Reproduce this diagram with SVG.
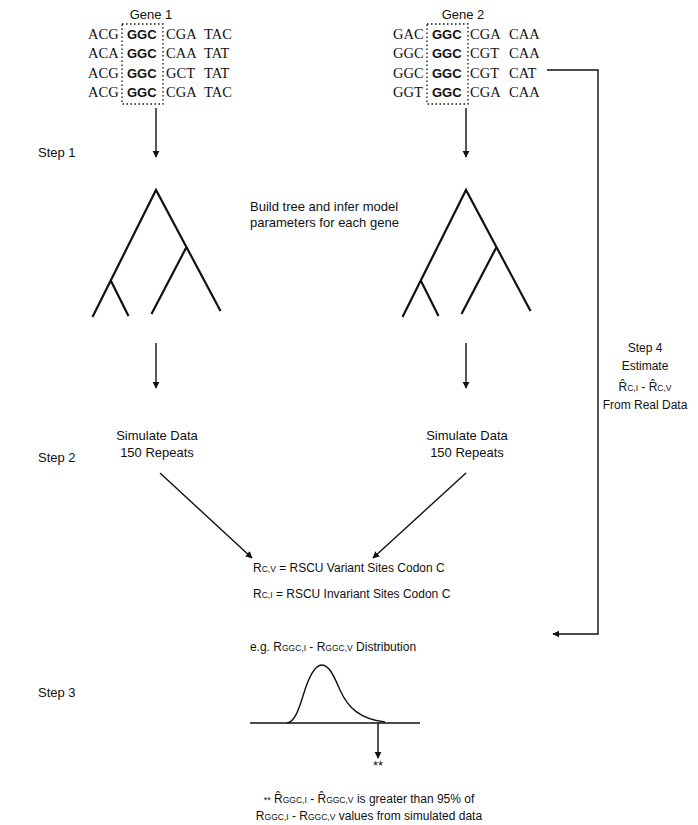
<svg xmlns="http://www.w3.org/2000/svg" width="698" height="825" viewBox="0 0 698 825">
  <style>
    .sans { font-family: "Liberation Sans", Arial, sans-serif; font-size: 13px; fill: #111; }
    .small { font-size: 12px; }
    .seq { font-family: "Liberation Serif", "Times New Roman", serif; font-size: 14.5px; fill: #111; }
    .bold { font-family: "Liberation Sans", Arial, sans-serif; font-size: 13px; font-weight: bold; fill: #111; }
    .sub { font-size: 8.5px; }
    .mid { text-anchor: middle; }
    .line { stroke: #111; stroke-width: 1.4; fill: none; }
    .tree { stroke: #111; stroke-width: 2.2; fill: none; stroke-linecap: square; }
    .dots { stroke: #111; stroke-width: 1.3; stroke-dasharray: 1.5 2.5; fill: none; }
  </style>
  <defs>
    <marker id="head" viewBox="0 0 10 10" refX="9" refY="5" markerWidth="7" markerHeight="9" markerUnits="userSpaceOnUse" orient="auto">
      <path d="M0,0 L10,5 L0,10 Z" fill="#111"/>
    </marker>
  </defs>
  <rect width="698" height="825" fill="#fff"/>

  <!-- Gene 1 alignment -->
  <g id="gene1">
    <text class="sans mid" x="151" y="19">Gene 1</text>
    <g class="seq">
      <text x="88" y="39">ACG</text><text x="166" y="39">CGA</text><text x="204" y="39">TAC</text>
      <text x="88" y="58">ACA</text><text x="166" y="58">CAA</text><text x="204" y="58">TAT</text>
      <text x="88" y="78">ACG</text><text x="166" y="78">GCT</text><text x="204" y="78">TAT</text>
      <text x="88" y="97">ACG</text><text x="166" y="97">CGA</text><text x="204" y="97">TAC</text>
    </g>
    <g class="bold">
      <text x="127" y="39">GGC</text>
      <text x="127" y="58">GGC</text>
      <text x="127" y="78">GGC</text>
      <text x="127" y="97">GGC</text>
    </g>
    <rect class="dots" x="122" y="24" width="41" height="80"/>
  </g>

  <!-- Gene 2 alignment -->
  <g id="gene2">
    <text class="sans mid" x="463" y="19">Gene 2</text>
    <g class="seq">
      <text x="393" y="39">GAC</text><text x="470" y="39">CGA</text><text x="509" y="39">CAA</text>
      <text x="393" y="58">GGC</text><text x="470" y="58">CGT</text><text x="509" y="58">CAA</text>
      <text x="393" y="78">GGC</text><text x="470" y="78">CGT</text><text x="509" y="78">CAT</text>
      <text x="393" y="97">GGT</text><text x="470" y="97">CGA</text><text x="509" y="97">CAA</text>
    </g>
    <g class="bold">
      <text x="432" y="39">GGC</text>
      <text x="432" y="58">GGC</text>
      <text x="432" y="78">GGC</text>
      <text x="432" y="97">GGC</text>
    </g>
    <rect class="dots" x="427" y="24" width="41" height="80"/>
  </g>

  <!-- Step labels -->
  <g id="step1"><text class="sans" x="38" y="157">Step 1</text></g>
  <g id="step2"><text class="sans" x="38" y="462">Step 2</text></g>
  <g id="step3"><text class="sans" x="38" y="697">Step 3</text></g>

  <!-- Trees -->
  <g id="tree1">
    <path class="tree" d="M93,316 L156,190 L220,310 M111,281 L128,315 M186,248 L152,313"/>
  </g>
  <g id="tree2">
    <path class="tree" d="M403,316 L466,190 L530,310 M421,281 L438,315 M496,248 L462,313"/>
  </g>

  <g id="build">
    <text class="sans" x="250" y="211">Build tree and infer model</text>
    <text class="sans" x="250" y="227">parameters for each gene</text>
  </g>

  <!-- Simulations -->
  <g id="sim1">
    <text class="sans mid" x="157" y="440">Simulate Data</text>
    <text class="sans mid" x="157" y="457">150 Repeats</text>
  </g>
  <g id="sim2">
    <text class="sans mid" x="467" y="440">Simulate Data</text>
    <text class="sans mid" x="467" y="457">150 Repeats</text>
  </g>

  <!-- Definitions -->
  <g id="defs-text">
    <text class="sans small" x="253" y="572">R<tspan class="sub">C,V</tspan> = RSCU Variant Sites Codon C</text>
    <text class="sans small" x="253" y="598">R<tspan class="sub">C,I</tspan> = RSCU Invariant Sites Codon C</text>
  </g>

  <!-- Distribution -->
  <g id="distribution">
    <text class="sans small mid" x="333" y="651">e.g. R<tspan class="sub">GGC,I</tspan> - R<tspan class="sub">GGC,V</tspan> Distribution</text>
    <line class="line" x1="250" y1="723" x2="420" y2="723"/>
    <path class="line" stroke-width="1.8" d="M287,723 C297,722 301,700 307,684 C312,671 317,665 322,665 C329,665 334,676 340,690 C348,708 360,719 385,722"/>
    <text class="sans mid" x="378" y="770" font-size="10">**</text>
  </g>

  <!-- Step 4 -->
  <g id="step4">
    <text class="sans small mid" x="645" y="352">Step 4</text>
    <text class="sans small mid" x="645" y="370">Estimate</text>
    <text class="sans small mid" x="645" y="391">R&#770;<tspan class="sub">C,I</tspan> - R&#770;<tspan class="sub">C,V</tspan></text>
    <text class="sans small mid" x="645" y="409">From Real Data</text>
  </g>

  <!-- Footnote -->
  <g id="note">
    <text class="sans small mid" x="369" y="803"><tspan font-size="9">**</tspan> R&#770;<tspan class="sub">GGC,I</tspan> - R&#770;<tspan class="sub">GGC,V</tspan> is greater than 95% of</text>
    <text class="sans small mid" x="369" y="820">R<tspan class="sub">GGC,I</tspan> - R<tspan class="sub">GGC,V</tspan> values from simulated data</text>
  </g>

  <!-- Connectors -->
  <g id="connectors">
    <line class="line" x1="156" y1="108" x2="156" y2="157" marker-end="url(#head)"/>
    <line class="line" x1="466" y1="108" x2="466" y2="157" marker-end="url(#head)"/>
    <line class="line" x1="156" y1="343" x2="156" y2="388" marker-end="url(#head)"/>
    <line class="line" x1="466" y1="343" x2="466" y2="388" marker-end="url(#head)"/>
    <line class="line" x1="160" y1="473" x2="252" y2="558" marker-end="url(#head)"/>
    <line class="line" x1="466" y1="473" x2="373" y2="558" marker-end="url(#head)"/>
    <polyline class="line" points="547,70 598,70 598,634 553,634" marker-end="url(#head)"/>
    <line class="line" x1="378" y1="723" x2="378" y2="758" marker-end="url(#head)"/>
  </g>
</svg>
